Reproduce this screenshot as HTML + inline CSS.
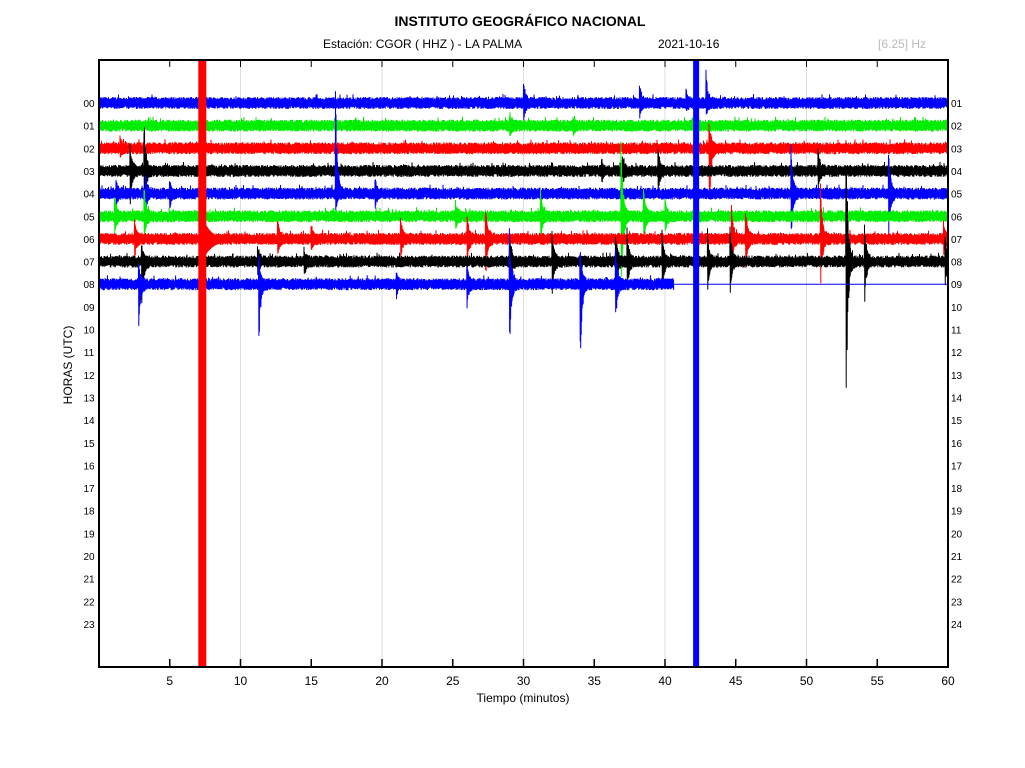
<!DOCTYPE html>
<html><head><meta charset="utf-8">
<style>
body{margin:0;background:#fff;}
svg{display:block;font-family:"Liberation Sans",Arial,sans-serif;}
</style></head>
<body>
<svg id="chart" width="1025" height="768" viewBox="0 0 1025 768" xmlns="http://www.w3.org/2000/svg">
<rect width="1025" height="768" fill="#fff"/>
<text x="520" y="26" text-anchor="middle" font-size="14" font-weight="bold">INSTITUTO GEOGRÁFICO NACIONAL</text>
<text x="323" y="48" font-size="12">Estación:  CGOR ( HHZ ) - LA PALMA</text>
<text x="658" y="48" font-size="12">2021-10-16</text>
<text x="878" y="48" font-size="12" fill="#bbb">[6.25] Hz</text>
<text transform="translate(72,365) rotate(-90)" text-anchor="middle" font-size="12">HORAS (UTC)</text>
<text x="523" y="702" text-anchor="middle" font-size="12">Tiempo (minutos)</text>
<g id="grid"></g>
<g id="traces"></g>
<g id="axes"></g>
</svg>
<script>
const rowLabelsLeft = ["00","01","02","03","04","05","06","07","08","09","10","11","12","13","14","15","16","17","18","19","20","21","22","23"];
const rowLabelsRight = ["01","02","03","04","05","06","07","08","09","10","11","12","13","14","15","16","17","18","19","20","21","22","23","24"];
const xTicks = [5,10,15,20,25,30,35,40,45,50,55,60];
const rowColors = ["#0000ff","#00ee00","#ff0000","#000000","#0000ff","#00ee00","#ff0000","#000000","#0000ff"];
const rowEndMinute = [60,60,60,60,60,60,60,60,40.6];
const noiseAmp = [6,6,6,6,6,6,6,6,6];
// events: [row, minute, up amplitude, down amplitude]
const events = [
 [0,30.0,20,14],[0,38.2,18,12],[0,42.9,30,10],[0,41.5,10,6],
 [1,29.0,10,10],[1,33.5,6,6],
 [2,43.1,30,70],[2,1.5,8,6],
 [3,2.2,25,30],[3,3.2,45,30],[3,35.5,10,10],[3,39.5,25,20],[3,50.8,25,20],[3,37.0,10,10],
 [4,16.7,120,20],[4,19.5,15,12],[4,48.9,50,45],[4,55.8,45,40],[4,3.3,15,12],[4,1.2,15,10],[4,5.0,10,10],
 [5,1.1,20,18],[5,3.2,25,20],[5,25.2,12,12],[5,31.2,25,20],[5,36.9,85,80],[5,38.5,30,25],[5,40.0,18,15],
 [6,2.5,20,20],[6,12.6,20,18],[6,21.3,22,18],[6,26.0,30,25],[6,27.3,40,40],[6,51.0,50,45],[6,44.7,30,25],[6,45.7,30,28],[6,59.7,15,12],[6,15.0,12,10],
 [7,3.0,15,60],[7,29.0,35,30],[7,32.0,40,35],[7,36.5,35,30],[7,37.3,35,30],[7,39.8,30,28],[7,43.0,30,28],[7,44.6,35,30],[7,52.8,130,140],[7,54.1,40,35],[7,59.8,25,20],[7,11.2,15,12],[7,14.5,10,10],
 [8,2.8,20,38],[8,11.3,30,50],[8,29.0,55,65],[8,34.0,40,78],[8,36.5,40,35],[8,26.0,20,20],[8,21.0,12,10]
];
const bigEvents = [[7.3,"#ff0000",8],[42.2,"#0000ff",6]]; // minute, color, width px

const X0=99,X1=948,Y0=60,Y1=667,ROW0=103,ROWSTEP=22.65;
const xs = m => X0 + (m/60)*(X1-X0);
const ys = r => ROW0 + r*ROWSTEP;
const NS="http://www.w3.org/2000/svg";
function mk(tag,attrs,parent){const e=document.createElementNS(NS,tag);for(const k in attrs)e.setAttribute(k,attrs[k]);parent.appendChild(e);return e;}
const grid=document.getElementById('grid'),traces=document.getElementById('traces'),axes=document.getElementById('axes');

[10,20,30,40,50].forEach(m=>{
 const l=mk('line',{x1:xs(m),x2:xs(m),y1:Y0,y2:Y1,stroke:'#ddd','stroke-width':1},grid);
 
 
});

// deterministic texture for noise
let seed=12345;function rnd(){seed=(seed*1103515245+12345)&0x7fffffff;return seed/0x7fffffff;}

for(let r=0;r<rowColors.length;r++){
 const y=ys(r);const end=rowEndMinute[r];
 const evs=events.filter(e=>e[0]===r);
 const N=Math.round(xs(end)-X0)*2;
 let pts=[];
 for(let i=0;i<=N;i++){
  const m=end*i/N;
  let up=noiseAmp[r]*(0.5+0.5*rnd()), dn=noiseAmp[r]*(0.5+0.5*rnd());
  if(rnd()>0.97){up+=3;}
  evs.forEach(e=>{const dt=m-e[1];if(dt>=-0.02){const env=Math.exp(-Math.max(dt,0)/0.12);up+=e[2]*env*(0.6+0.4*rnd());dn+=e[3]*env*(0.6+0.4*rnd());}});
  pts.push(xs(m).toFixed(1)+','+(y-up).toFixed(1));
  pts.push((xs(m)+0.25).toFixed(1)+','+(y+dn).toFixed(1));
 }
 const p=mk('polyline',{points:pts.join(' '),fill:'none',stroke:rowColors[r],'stroke-width':1},traces);
 
 
 if(end<60){
  const l=mk('line',{x1:xs(end),x2:X1,y1:y,y2:y,stroke:rowColors[r],'stroke-width':1},traces);
  
  
 }
}
bigEvents.forEach(b=>{
 const rc=mk('rect',{x:xs(b[0])-b[2]/2,y:Y0,width:b[2],height:Y1-Y0,fill:b[1]},traces);
 
 
});
const tail=mk('path',{d:`M${xs(7.3)} 215 Q${xs(7.3)+6} 238 ${xs(7.3)+28} 240 Q${xs(7.3)+6} 244 ${xs(7.3)} 262 Z`,fill:'#ff0000'},traces);



const frame=mk('rect',{x:X0,y:Y0,width:X1-X0,height:Y1-Y0,fill:'none',stroke:'#000','stroke-width':2},axes);


xTicks.forEach(t=>{
 const x=xs(t);
 const tk=mk('line',{x1:x,x2:x,y1:Y1,y2:Y1-8,stroke:'#000','stroke-width':1.5},axes);
 
 
 const tt=mk('line',{x1:x,x2:x,y1:Y0,y2:Y0+7,stroke:'#000','stroke-width':1},axes);
 
 
 const tx=mk('text',{x:x,y:Y1+18,'text-anchor':'middle','font-size':12},axes);
 tx.textContent=t;
 
 
});
rowLabelsLeft.forEach((lab,i)=>{
 const t=mk('text',{x:89,y:ys(i)+4,'text-anchor':'middle','font-size':10},axes);
 t.textContent=lab;
 
 
});
rowLabelsRight.forEach((lab,i)=>{
 const t=mk('text',{x:951,y:ys(i)+4,'font-size':10},axes);
 t.textContent=lab;
 
 
});
</script>
</body></html>
